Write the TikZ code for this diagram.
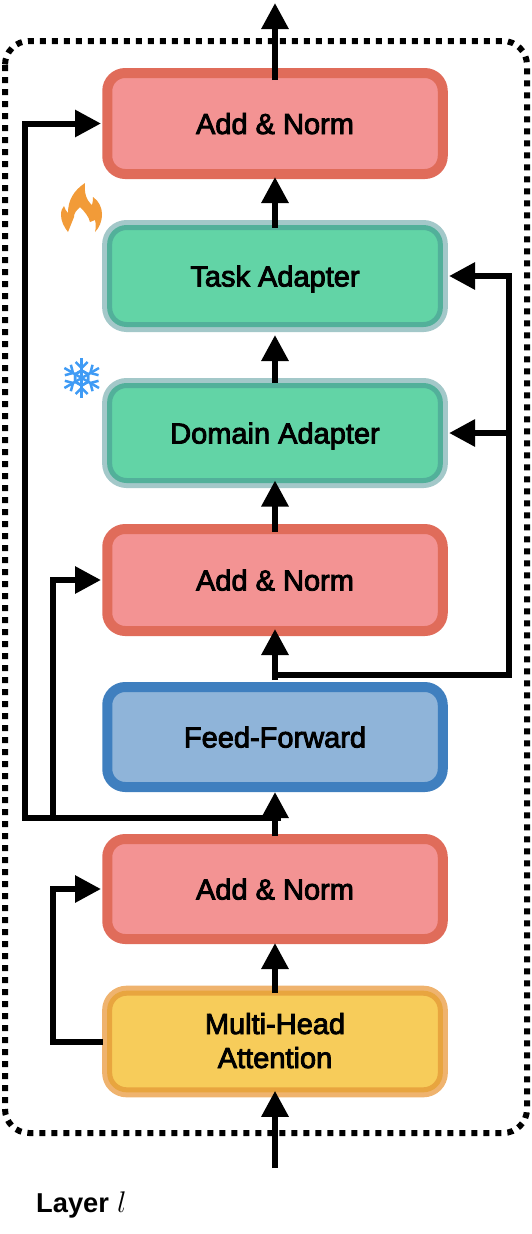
\documentclass[tikz,border=0pt]{standalone}
\usepackage{fontspec}
\setmainfont{Liberation Sans}
\newfontfamily\labelfont[FakeBold=3]{Liberation Sans}
\usetikzlibrary{arrows.meta}
\definecolor{anfill}{HTML}{F39393}
\definecolor{anline}{HTML}{E06C5A}
\definecolor{ffill}{HTML}{8FB4D9}
\definecolor{ffline}{HTML}{3F7FBF}
\definecolor{grfill}{HTML}{62D4A6}
\definecolor{grline}{HTML}{52B09A}
\definecolor{grout}{HTML}{A3C8C9}
\definecolor{yefill}{HTML}{F7CC5A}
\definecolor{yeline}{HTML}{E8A53F}
\definecolor{yeout}{HTML}{EFB36E}
\definecolor{flame}{HTML}{F29B38}
\definecolor{snow}{HTML}{3F9BF5}
\tikzset{
 x=1pt,y=-1pt,
 box/.style={rounded corners=18pt,minimum width=335.5pt,outer sep=0pt,inner sep=0pt,align=center,
   font=\fontsize{29}{34}\labelfont, text height=21pt, text depth=0pt},
 addnorm/.style={box,draw=anline,line width=10pt,fill=anfill},
 ffbox/.style={box,draw=ffline,line width=10pt,fill=ffill},
 dbl/.style={box,rounded corners=17pt,minimum width=330.7pt,line width=5pt,preaction={draw=#1,line width=15pt}},
 taskbox/.style={dbl=grout,draw=grline,fill=grfill},
 attbox/.style={dbl=yeout,draw=yeline,fill=yefill},
 link/.style={line width=6pt,line join=miter,-{Triangle[length=26pt,width=26pt]}},
 arm/.style={draw=snow,line width=2.5pt},
}
\begin{document}
\begin{tikzpicture}
\useasboundingbox (0,0) rectangle (532,1234);
\draw[line width=6pt,dash pattern=on 6pt off 6pt,rounded corners=24pt] (5,41) rectangle (527,1133);
\node[addnorm,minimum height=101pt] (an1) at (275,123.5) {Add \& Norm};
\node[taskbox,minimum height=97pt] (task) at (275,276) {Task Adapter};
\node[taskbox,minimum height=95pt] (dom) at (275,433) {Domain Adapter};
\node[addnorm,minimum height=102pt] (an2) at (275,580) {Add \& Norm};
\node[ffbox,minimum height=100pt] (ff) at (275,737) {Feed-Forward};
\node[addnorm,minimum height=100pt] (an3) at (275,889) {Add \& Norm};
\node[attbox,minimum height=96.6pt,text height=53pt] (att) at (275,1041.5) {Multi-Head\\Attention};
\coordinate (top) at (275,3);
\coordinate (inp) at (275,1168);
\coordinate (busL) at (25,818);
\coordinate (busR) at (281,818);
\coordinate (busM) at (53,818);
\coordinate (tapR) at (509,675);
\coordinate (tap) at (275,675);
\coordinate (skipA) at (53,1041.5);
\draw[link] (inp) -- ([yshift=-1pt]att.south);
\draw[link] (att.north) -- ([yshift=-4pt]an3.south);
\draw[link] ([yshift=3pt]an3.north) -- ([yshift=-5pt]ff.south);
\draw[link] ([yshift=7pt]ff.north) -- ([yshift=2pt]an2.south);
\draw[link] ([yshift=-3pt]an2.north) -- (dom.south);
\draw[link] ([yshift=2.5pt]dom.north) -- ([yshift=-10.5pt]task.south);
\draw[link] (task.north) -- ([yshift=-3pt]an1.south);
\draw[link] ([yshift=-7pt]an1.north) -- (top);
\draw[link] ([xshift=-7pt]att.west) -- (skipA) |- ([xshift=-6.25pt]an3.west);
\draw[link] (busM) |- ([xshift=-6.25pt]an2.west);
\draw[link] (busR) -- (busL) |- ([xshift=-6.25pt]an1.west);
\draw[link] (tap) -- (tapR) |- ([xshift=8.7pt]task.east);
\draw[link] (tapR |- dom.east) -- ([xshift=8.7pt]dom.east);
% flame
\fill[flame] (68,232) .. controls (64,227) and (61,221) .. (61,215)
 .. controls (61,211) and (62,208) .. (64,206)
 .. controls (65,209) and (66,211) .. (68,213)
 .. controls (68,201) and (73,191) .. (85,183)
 .. controls (84,192) and (86,200) .. (92,205)
 .. controls (93,202) and (93,199) .. (93,197)
 .. controls (99,201) and (102,208) .. (102,214)
 .. controls (102,222) and (99,228) .. (95,232)
 .. controls (96,228) and (96,224) .. (95,220)
 -- (90,222)
 .. controls (89,217) and (85,212) .. (80,207)
 .. controls (76,211) and (74,213) .. (74,217)
 .. controls (72,222) and (70,227) .. (68,232) -- cycle;
% snowflake
\foreach \a in {0,60,120,180,240,300}{
 \begin{scope}[shift={(81.7,378)},rotate=\a]
  \draw[arm] (0,0) -- (0,-20);
  \draw[arm] (-6,-16) -- (0,-10) -- (6,-16);
  \draw[arm] (-6.5,-3.8) -- (0,-7.5) -- (6.5,-3.8);
 \end{scope}}
\node[anchor=base west,inner sep=0pt,font=\fontsize{27.3}{32}\selectfont\bfseries] (lay) at (36,1212) {Layer\kern8pt\scalebox{1.2}{$l$}};
\end{tikzpicture}
\end{document}
